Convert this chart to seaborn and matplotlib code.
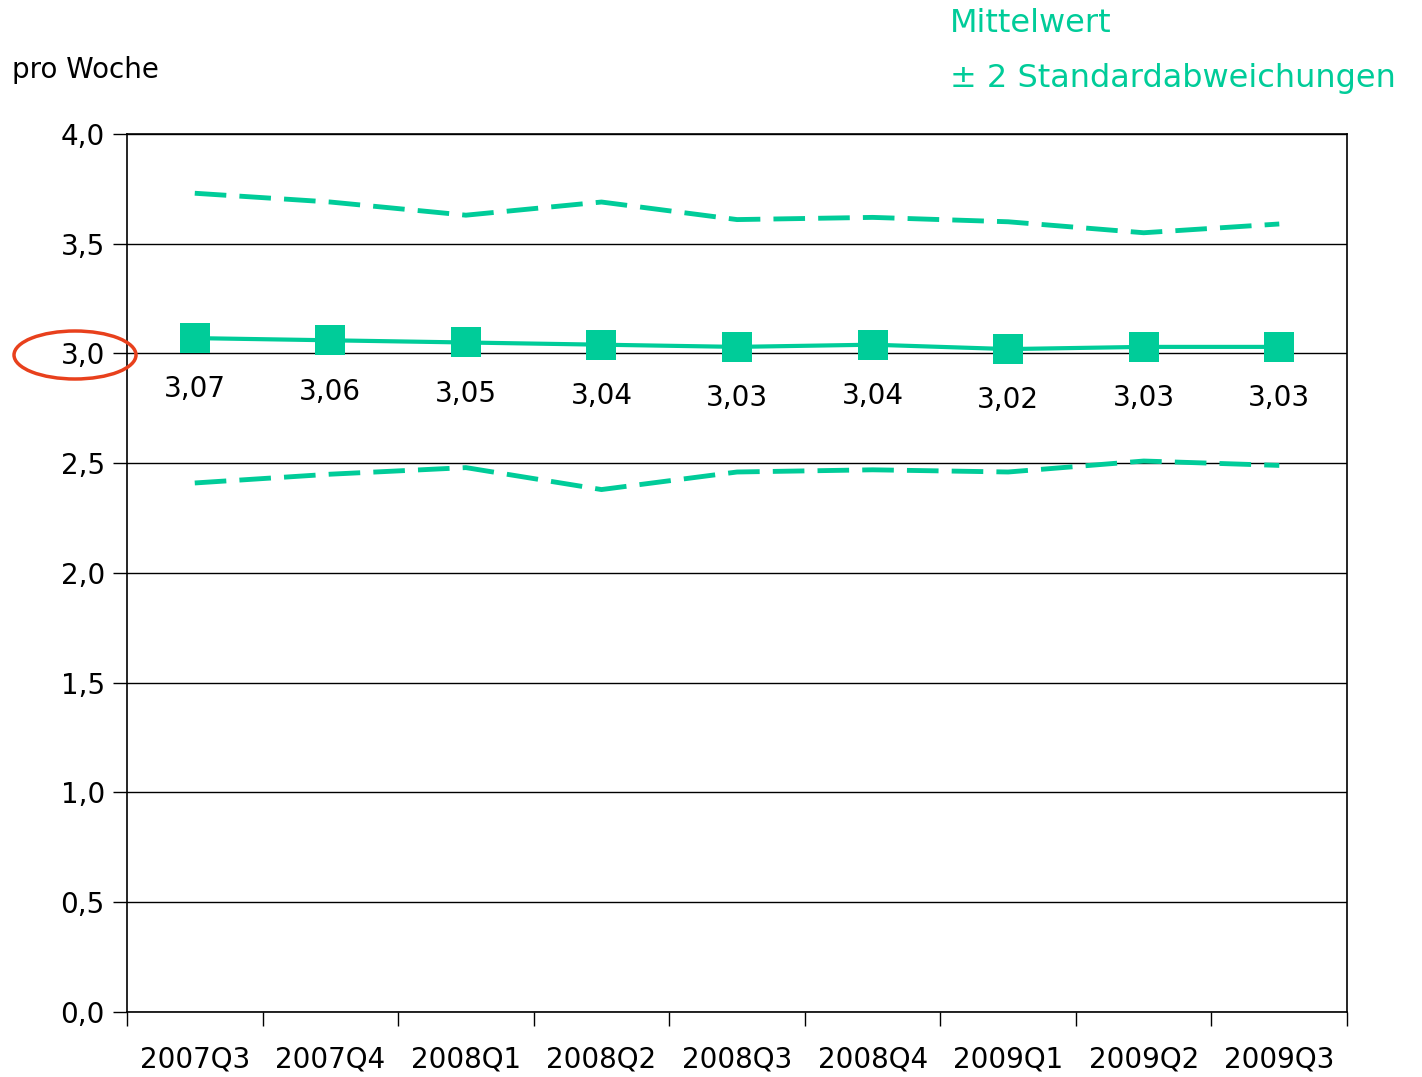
import numpy as np
import pandas as pd
import matplotlib
matplotlib.use("Agg")
import matplotlib.pyplot as plt
from matplotlib.patches import Ellipse
from matplotlib.ticker import FuncFormatter
import seaborn as sns

quarters = ['2007Q3', '2007Q4', '2008Q1', '2008Q2', '2008Q3',
            '2008Q4', '2009Q1', '2009Q2', '2009Q3']
mean_vals = [3.07, 3.06, 3.05, 3.04, 3.03, 3.04, 3.02, 3.03, 3.03]
upper_vals = [3.73, 3.69, 3.63, 3.69, 3.61, 3.62, 3.60, 3.55, 3.59]
lower_vals = [2.41, 2.45, 2.48, 2.38, 2.46, 2.47, 2.46, 2.51, 2.49]

green = '#00CC99'

df = pd.DataFrame({'quartal': np.arange(len(quarters)),
                   'mittel': mean_vals,
                   'oben': upper_vals,
                   'unten': lower_vals})

sns.set_style('white')
plt.rcParams['font.family'] = ['DejaVu Sans']
plt.rcParams['text.color'] = 'black'
plt.rcParams['xtick.color'] = 'black'
plt.rcParams['ytick.color'] = 'black'

fig = plt.figure(figsize=(14.22, 10.77), dpi=100)
ax = fig.add_axes([0.0893, 0.0604, 0.858, 0.8152])

ax.yaxis.grid(True, color='black', linewidth=1.0)
ax.set_axisbelow(True)

for col in ['oben', 'unten']:
    sns.lineplot(data=df, x='quartal', y=col, ax=ax, color=green,
                 linewidth=3.5, dashes=False, legend=False)
for line in ax.lines:
    line.set_dashes((6.5, 2.7))

sns.lineplot(data=df, x='quartal', y='mittel', ax=ax, color=green,
             linewidth=3, marker='s', markersize=22, markeredgewidth=0,
             legend=False)

for i, v in enumerate(mean_vals):
    ax.annotate(f'{v:.2f}'.replace('.', ','), (i, v), xytext=(0, -37),
                textcoords='offset points', ha='center', va='center',
                fontsize=20, color='black')

ax.set_xlim(-0.5, len(quarters) - 0.5)
ax.set_ylim(0, 4)
ax.set_yticks(np.arange(0, 4.01, 0.5))
ax.yaxis.set_major_formatter(FuncFormatter(lambda v, p: f'{v:.1f}'.replace('.', ',')))
ax.set_xticks(np.arange(-0.5, len(quarters), 1.0))
ax.set_xticklabels([])
ax.set_xticks(np.arange(len(quarters)), minor=True)
ax.set_xticklabels(quarters, minor=True, fontsize=20)
ax.tick_params(axis='x', which='major', length=10, width=1, direction='out',
               bottom=True, color='black')
ax.tick_params(axis='x', which='minor', length=0, pad=24, labelcolor='black')
ax.tick_params(axis='y', length=10, width=1, direction='out', left=True,
               labelsize=20, pad=6, color='black', labelcolor='black')
ax.set_xlabel('')
ax.set_ylabel('')
for s in ax.spines.values():
    s.set_color('black')
    s.set_linewidth(1.2)

fig.text(12 / 1422, 1 - 70 / 1077, 'pro Woche', fontsize=20, va='center',
         ha='left', color='black')
fig.text(950 / 1422, 1 - 24 / 1077, 'Mittelwert', fontsize=23, color=green,
         va='center', ha='left')
fig.text(950 / 1422, 1 - 79 / 1077, '± 2 Standardabweichungen', fontsize=23,
         color=green, va='center', ha='left')

ell = Ellipse((75 / 1422, 1 - 355 / 1077), 122 / 1422, 48 / 1077,
              transform=fig.transFigure, fill=False, edgecolor='#E8401C',
              linewidth=2.5)
fig.patches.append(ell)

fig.savefig('out.png', dpi=100)
